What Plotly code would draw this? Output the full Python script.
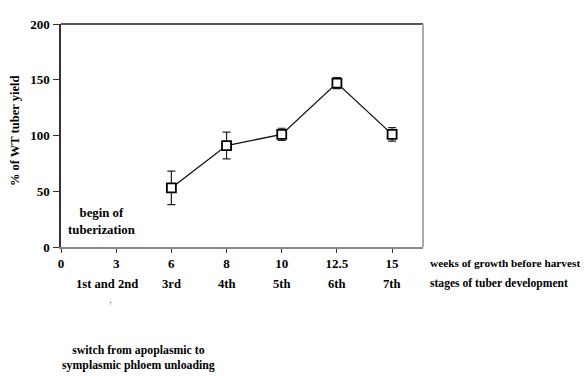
import plotly.graph_objects as go

# ---- data ----
week_labels = ["0", "3", "6", "8", "10", "12.5", "15"]
sample_weeks = ["6", "8", "10", "12.5", "15"]
yield_pct = [53, 91, 101, 147, 101]
yield_err = [15, 12, 5.5, 5, 6]
y_ticks = [0, 50, 100, 150, 200]
stage_labels = ["1st and 2nd", "3rd", "4th", "5th", "6th", "7th"]
stage_weeks = ["3", "6", "8", "10", "12.5", "15"]

FONT = "Liberation Serif"

fig = go.Figure()
fig.add_trace(go.Scatter(
    x=sample_weeks, y=yield_pct,
    mode="lines+markers",
    line=dict(color="#111", width=1.3),
    marker=dict(symbol="square", size=9, color="white",
                line=dict(color="#000", width=1.8)),
    error_y=dict(type="data", array=yield_err, visible=True,
                 color="#222", thickness=1.2, width=4),
    showlegend=False,
))

# page has an 8px body offset, so the figure is 8px smaller
fig.update_layout(
    width=580, height=368,
    margin=dict(l=53, r=165, t=9, b=129),
    paper_bgcolor="white", plot_bgcolor="white",
    font=dict(family=FONT, size=12, color="#000"),
    xaxis=dict(
        type="category", categoryorder="array", categoryarray=week_labels,
        tickvals=week_labels, ticktext=["<b>%s</b>" % w for w in week_labels],
        range=[0, 6.56], showgrid=False, zeroline=False,
        showline=True, linecolor="#888", linewidth=1.5,
        ticks="outside", ticklen=4, tickcolor="#333", tickwidth=1.2,
        ticklabelstandoff=0,
        tickfont=dict(family=FONT, size=13),
    ),
    yaxis=dict(
        range=[0, 200], tickvals=y_ticks,
        ticktext=["<b>%d</b>" % v for v in y_ticks],
        showgrid=False, zeroline=False,
        showline=True, linecolor="#333", linewidth=1.5,
        ticks="outside", ticklen=6, tickcolor="#333", tickwidth=1.2,
        ticklabelstandoff=1,
        tickfont=dict(family=FONT, size=13),
    ),
)

# frame: top and right edges
fig.add_shape(type="line", xref="paper", yref="paper", x0=0, x1=1, y0=1, y1=1,
              line=dict(color="#555", width=2))
fig.add_shape(type="line", xref="paper", yref="paper", x0=1, x1=1, y0=0, y1=1,
              line=dict(color="#aaa", width=2))

def ann(text, x, y, size=11.8, xanchor="center", angle=0, xref="paper", xshift=0):
    fig.add_annotation(text=text, x=x, y=y, xref=xref, yref="paper",
                       showarrow=False, xanchor=xanchor, yanchor="middle",
                       textangle=angle, xshift=xshift,
                       font=dict(family=FONT, size=size, color="#000"))

# y-axis title
ann("<b>% of WT tuber yield</b>", -0.127, 0.52, size=12.5, angle=-90)
# begin of tuberization
ann("<b>begin of<br>tuberization</b>", (101 - 61) / 362, (247 - 221) / 230, size=12.8)
# right-side labels
ann("<b>weeks of growth before harvest</b>", (428 - 61) / 362, (247 - 263) / 230,
    size=11.3, xanchor="left")
ann("<b>stages of tuber development</b>", (428 - 61) / 362, (247 - 285) / 230,
    size=11.6, xanchor="left")
# stage labels, under the week ticks (category index on the x axis)
for i, (lab, wk) in enumerate(zip(stage_labels, stage_weeks)):
    ann("<b>%s</b>" % lab, week_labels.index(wk), (247 - 285) / 230, size=12.6,
        xref="x", xshift=-9 if i == 0 else 0)
# small arrow mark
ann("↑", (110 - 61) / 362, (247 - 305) / 230, size=6)
# switch note
ann("<b>switch from apoplasmic to<br>symplasmic phloem unloading</b>",
    (138 - 61) / 362, (247 - 361) / 230, size=11.8)

fig.write_html("out.html")
